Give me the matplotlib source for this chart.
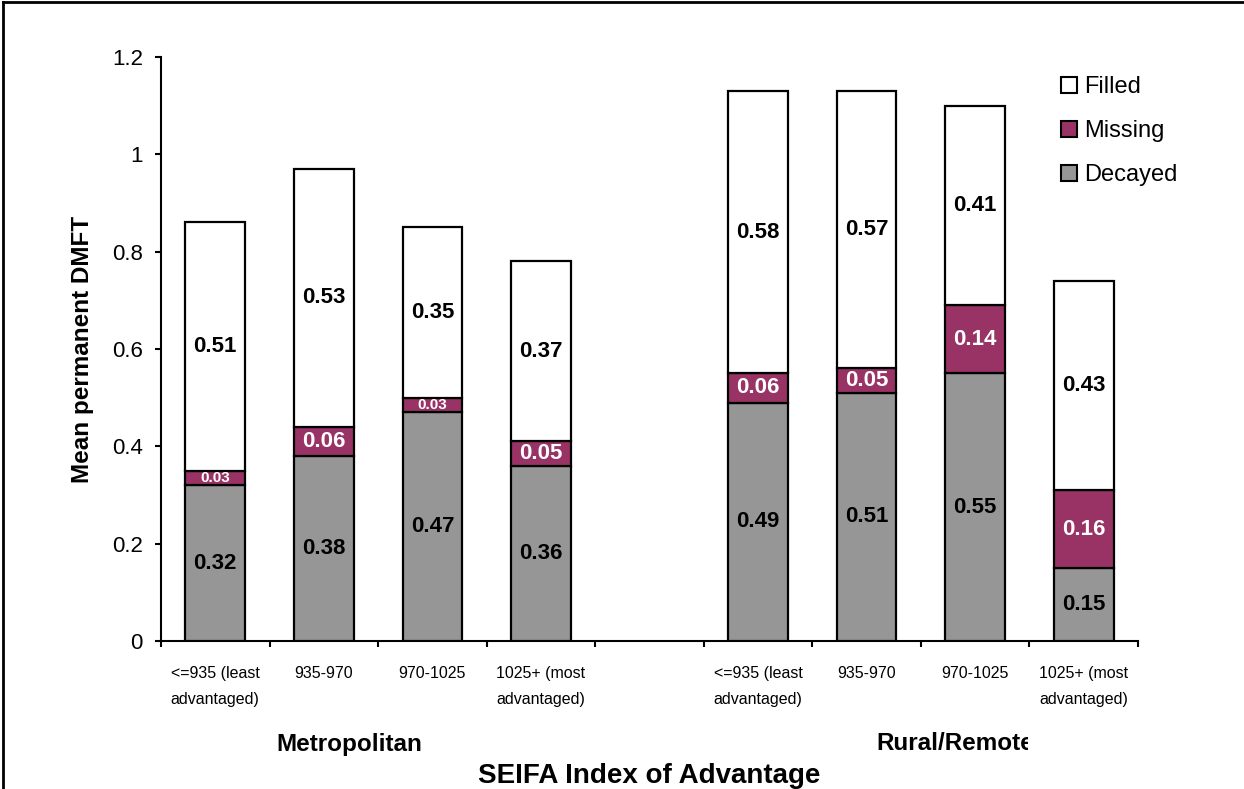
import matplotlib

matplotlib.use("Agg")
import matplotlib.pyplot as plt
from matplotlib.lines import Line2D
from matplotlib.patches import Patch
from matplotlib.transforms import Bbox
import numpy as np

plt.rcParams["font.family"] = ["Liberation Sans", "DejaVu Sans"]

# data
groups = ["Metropolitan", "Rural/Remote"]
seifa_labels = ["<=935 (least\nadvantaged)", "935-970", "970-1025", "1025+ (most\nadvantaged)"]
decayed = [0.32, 0.38, 0.47, 0.36, 0.49, 0.51, 0.55, 0.15]
missing = [0.03, 0.06, 0.03, 0.05, 0.06, 0.05, 0.14, 0.16]
filled = [0.51, 0.53, 0.35, 0.37, 0.58, 0.57, 0.41, 0.43]
y_ticks = [0, 0.2, 0.4, 0.6, 0.8, 1.0, 1.2]
y_tick_labels = ["0", "0.2", "0.4", "0.6", "0.8", "1", "1.2"]

c_decayed = "#969696"
c_missing = "#993366"
c_filled = "#ffffff"

W, H = 1244, 789
fig = plt.figure(figsize=(W / 100, H / 100), dpi=100)
ax = fig.add_axes([161 / W, 1 - 641 / H, 977 / W, 584 / H])

# slots: 4 metro, 1 empty gap, 4 rural
x = np.array([0.5, 1.5, 2.5, 3.5, 5.5, 6.5, 7.5, 8.5])
d = np.array(decayed)
m = np.array(missing)
f = np.array(filled)
w = 0.55
kw = dict(width=w, edgecolor="black", linewidth=1.6, zorder=3)
ax.bar(x, d, color=c_decayed, **kw)
ax.bar(x, m, bottom=d, color=c_missing, **kw)
ax.bar(x, f, bottom=d + m, color=c_filled, **kw)

for xi, di, mi, fi in zip(x, d, m, f):
    ax.text(xi, di / 2, f"{di:.2f}", ha="center", va="center",
            fontsize=16, fontweight="bold", color="black", zorder=4)
    ax.text(xi, di + mi / 2, f"{mi:.2f}", ha="center", va="center",
            fontsize=11 if mi < 0.04 else 16, fontweight="bold",
            color="white", zorder=4)
    ax.text(xi, di + mi + fi / 2, f"{fi:.2f}", ha="center", va="center",
            fontsize=16, fontweight="bold", color="black", zorder=4)

ax.set_xlim(0, 9)
ax.set_ylim(0, 1.2)
ax.set_yticks(y_ticks)
ax.set_yticklabels(y_tick_labels, fontsize=16)
ax.set_xticks(x)
ax.set_xticklabels(seifa_labels * 2, fontsize=11.5, linespacing=1.9)
ax.set_xticks(np.arange(0, 10), minor=True)
ax.tick_params(axis="x", which="major", length=0, pad=18)
ax.tick_params(axis="x", which="minor", length=4, width=1.5, direction="out")
ax.tick_params(axis="y", length=4, width=1.5, direction="out", pad=9)

for side in ["top", "right"]:
    ax.spines[side].set_visible(False)
for side in ["left", "bottom"]:
    ax.spines[side].set_linewidth(1.5)

ax.set_ylabel("Mean permanent DMFT", fontsize=17.5, fontweight="bold")
ax.yaxis.set_label_coords(-0.069, 0.5)

handles = [
    Patch(facecolor=c_filled, edgecolor="black", linewidth=1.5),
    Patch(facecolor=c_missing, edgecolor="black", linewidth=1.5),
    Patch(facecolor=c_decayed, edgecolor="black", linewidth=1.5),
]
fig.legend(handles, ["Filled", "Missing", "Decayed"], loc="upper left",
           bbox_to_anchor=(1061 / W, 1 - 76 / H), frameon=False, fontsize=17,
           handlelength=0.68, handleheight=0.68, handletextpad=0.3,
           labelspacing=0.93, borderaxespad=0, borderpad=0)

fig.text(349 / W, 1 - 744 / H, groups[0], ha="center", va="center",
         fontsize=17.5, fontweight="bold")
t = fig.text(955 / W, 1 - 744 / H, groups[1], ha="center", va="center",
             fontsize=17.5, fontweight="bold")
t.set_clip_box(Bbox.from_extents(0, 0, 1028, H))
t.set_clip_on(True)
fig.text(649 / W, 1 - 776 / H, "SEIFA Index of Advantage", ha="center",
         va="center", fontsize=20, fontweight="bold")

# outer frame (only top and left edges visible)
fig.add_artist(Line2D([3 / W, 3 / W], [0, 1 - 2 / H], color="black",
                      linewidth=2, transform=fig.transFigure))
fig.add_artist(Line2D([3 / W, 1], [1 - 2 / H, 1 - 2 / H], color="black",
                      linewidth=2, transform=fig.transFigure))

fig.savefig("out.png", dpi=100)
